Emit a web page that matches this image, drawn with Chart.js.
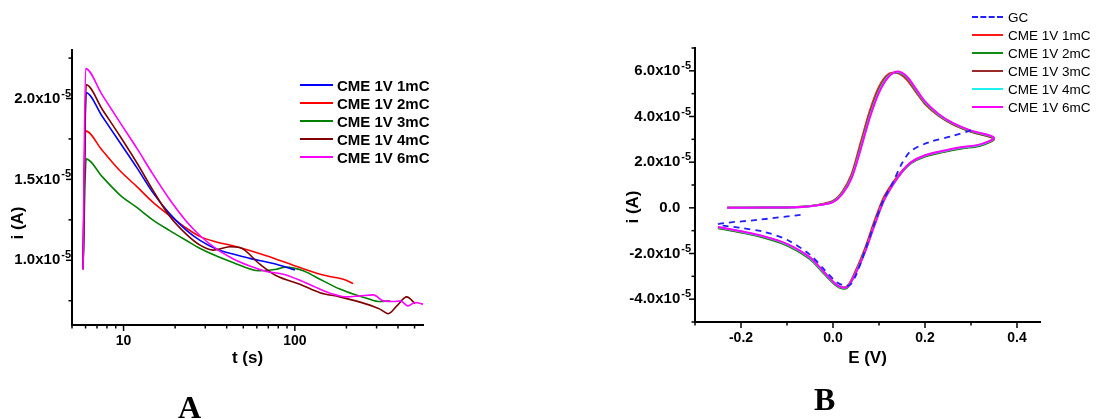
<!DOCTYPE html>
<html>
<head>
<meta charset="utf-8">
<script src="https://cdn.jsdelivr.net/npm/chart.js@4.4.0/dist/chart.umd.min.js"></script>
<style>
  body { margin: 0; background: #fff; width: 1097px; height: 419px; position: relative; overflow: hidden; }
  canvas { position: absolute; top: 0; }
  #cA { left: 0; }
  #cB { left: 560px; }
  .legend { position: absolute; color: #000; }
  .legend div { display: flex; align-items: center; height: 18px; white-space: nowrap; }
  .legend .sw { display: inline-block; border-top: 2px solid; }
  #legA { left: 300px; top: 76px; font: bold 15px "Liberation Sans", Arial, sans-serif; }
  #legA .sw { width: 33px; margin-right: 4px; }
  #legB { left: 972px; top: 8px; font: 13.5px "Liberation Sans", Arial, sans-serif; }
  #legB .sw { width: 31px; margin-right: 5px; }
  .tag { position: absolute; font: bold 32px "Liberation Serif", "Times New Roman", serif; line-height: 1; }
</style>
</head>
<body>
<canvas id="cA" width="470" height="390"></canvas>
<canvas id="cB" width="537" height="390"></canvas>
<div class="legend" id="legA"></div>
<div class="legend" id="legB"></div>
<div class="tag" style="left:178px; top:391px;">A</div>
<div class="tag" style="left:814px; top:383px;">B</div>

<script>
// ---- chart A: current transients, i in units of 1e-5 A, t in s ----
const namesA = ['CME 1V 1mC', 'CME 1V 2mC', 'CME 1V 3mC', 'CME 1V 4mC', 'CME 1V 6mC'];
const colorsA = ['#0000ff', '#ff0000', '#008000', '#800000', '#ff00ff'];

const t1mC = [5.8, 6.05, 7.5, 9.5, 12, 14.8, 18.5, 23.3, 27.8, 34.8, 41.7, 54.6, 78, 100];
const i1mC = [0.945, 2.036, 1.89, 1.73, 1.57, 1.42, 1.29, 1.185, 1.125, 1.07, 1.043, 1.012, 0.975, 0.94];

const t2mC = [5.8, 6.0, 7.5, 9.5, 12, 14.8, 18.5, 23.3, 27.8, 34.8, 43.5, 68.2, 107, 153, 192, 219];
const i2mC = [0.945, 1.80, 1.68, 1.555, 1.454, 1.36, 1.278, 1.198, 1.148, 1.113, 1.09, 1.028, 0.955, 0.904, 0.883, 0.856];

const t3mC = [5.8, 6.05, 7.5, 9.5, 12, 14.8, 18.5, 23.3, 27.8, 43.5, 62, 78, 88, 112, 134, 183, 219, 262, 314, 359];
const i3mC = [0.945, 1.627, 1.517, 1.405, 1.325, 1.25, 1.185, 1.122, 1.075, 0.987, 0.935, 0.945, 0.958, 0.935, 0.894, 0.822, 0.791, 0.766, 0.745, 0.749];

const t4mC = [5.8, 6.05, 7.5, 9.5, 12, 14.8, 18.5, 23.3, 27.8, 33.3, 41.7, 47.7, 62.4, 78.1, 107, 140, 183, 262, 314, 351, 394, 450, 504];
const i4mC = [0.945, 2.085, 1.934, 1.77, 1.60, 1.435, 1.275, 1.16, 1.095, 1.063, 1.084, 1.079, 0.976, 0.904, 0.852, 0.80, 0.774, 0.729, 0.698, 0.67, 0.718, 0.774, 0.732];

const t6mC = [5.8, 6.0, 7.5, 9.5, 12, 14.8, 18.5, 23.3, 27.8, 34.8, 43.5, 54.6, 68.2, 85.5, 107, 134, 167, 200, 240, 287, 328, 376, 414, 457, 504, 560];
const i6mC = [0.945, 2.185, 2.023, 1.854, 1.69, 1.534, 1.379, 1.24, 1.155, 1.07, 1.01, 0.965, 0.931, 0.914, 0.877, 0.831, 0.791, 0.774, 0.78, 0.786, 0.749, 0.745, 0.749, 0.718, 0.739, 0.729];

const tTicksA = [5, 6, 7, 8, 9, 10, 20, 30, 40, 50, 60, 70, 80, 90, 100, 200, 300, 400, 500];
const tLabelsA = [10, 100];
const iTicksA = [0.75, 1.0, 1.25, 1.5, 1.75, 2.0, 2.25];
const iLabelsA = [1.0, 1.5, 2.0];

// ---- chart B: cyclic voltammograms, E in V, i in units of 1e-5 A ----
const namesB = ['GC', 'CME 1V 1mC', 'CME 1V 2mC', 'CME 1V 3mC', 'CME 1V 4mC', 'CME 1V 6mC'];
const colorsB = ['#2020ff', '#ff1a1a', '#138a13', '#9a2a2a', '#1ff0f0', '#ff00ff'];

// potential sweep shared by the CME scans: forward to 0.35 V then back
const eCME = [-0.23, -0.15, -0.10, -0.06, -0.03, 0.00, 0.02, 0.04, 0.06, 0.08, 0.10, 0.12, 0.14, 0.16, 0.18, 0.20, 0.23, 0.26, 0.30, 0.35,
              0.32, 0.28, 0.24, 0.20, 0.17, 0.15, 0.13, 0.11, 0.09, 0.07, 0.05, 0.03, 0.01, -0.02, -0.05, -0.10, -0.15, -0.20, -0.25];
const cv1mC = [0.00, 0.01, 0.02, 0.06, 0.14, 0.30, 0.70, 1.45, 2.85, 4.25, 5.30, 5.85, 5.90, 5.62, 5.08, 4.55, 4.02, 3.66, 3.33, 3.02,
               2.74, 2.62, 2.46, 2.27, 1.98, 1.62, 1.10, 0.45, -0.58, -1.75, -2.72, -3.45, -3.42, -2.84, -2.21, -1.62, -1.28, -1.06, -0.87];
const cv2mC = [0.00, 0.01, 0.02, 0.06, 0.13, 0.28, 0.66, 1.38, 2.72, 4.12, 5.20, 5.80, 5.93, 5.68, 5.13, 4.59, 4.05, 3.68, 3.34, 3.03,
               2.72, 2.60, 2.44, 2.25, 1.96, 1.56, 1.02, 0.35, -0.70, -1.85, -2.80, -3.52, -3.45, -2.88, -2.25, -1.65, -1.31, -1.08, -0.89];
const cv3mC = [0.00, 0.01, 0.02, 0.05, 0.13, 0.27, 0.64, 1.34, 2.66, 4.06, 5.15, 5.78, 5.94, 5.71, 5.16, 4.62, 4.07, 3.70, 3.36, 3.05,
               2.75, 2.63, 2.47, 2.28, 1.99, 1.59, 1.05, 0.36, -0.68, -1.84, -2.78, -3.47, -3.42, -2.83, -2.20, -1.61, -1.27, -1.05, -0.86];
const cv4mC = [0.00, 0.01, 0.02, 0.05, 0.12, 0.26, 0.62, 1.31, 2.60, 4.00, 5.10, 5.75, 5.95, 5.74, 5.19, 4.64, 4.08, 3.71, 3.37, 3.07,
               2.76, 2.64, 2.48, 2.29, 1.99, 1.57, 1.00, 0.30, -0.75, -1.90, -2.82, -3.48, -3.41, -2.82, -2.19, -1.60, -1.26, -1.04, -0.85];
const cv6mC = [0.00, 0.01, 0.02, 0.05, 0.12, 0.25, 0.60, 1.28, 2.55, 3.95, 5.05, 5.72, 5.97, 5.76, 5.22, 4.66, 4.10, 3.72, 3.38, 3.08,
               2.78, 2.66, 2.50, 2.30, 2.00, 1.58, 1.00, 0.28, -0.78, -1.92, -2.83, -3.48, -3.40, -2.80, -2.17, -1.58, -1.25, -1.03, -0.84];

const eGC = [0.30, 0.26, 0.21, 0.17, 0.15, 0.13, 0.11, 0.09, 0.07, 0.05, 0.035, 0.01, -0.02, -0.05, -0.10, -0.15, -0.20, -0.25, -0.16, -0.068];
const cvGC = [3.39, 3.15, 2.88, 2.50, 1.95, 1.10, 0.35, -0.70, -1.85, -2.95, -3.40, -3.28, -2.68, -2.05, -1.40, -1.05, -0.88, -0.72, -0.52, -0.30];

const eTicksB = [-0.3, -0.2, -0.1, 0, 0.1, 0.2, 0.3, 0.4];
const eLabelsB = [-0.2, 0, 0.2, 0.4];
const iTicksB = [-5, -4, -3, -2, -1, 0, 1, 2, 3, 4, 5, 6, 7];
const iLabelsB = [-4, -2, 0, 2, 4, 6];

Chart.defaults.font.family = '"Liberation Sans", Arial, sans-serif';
Chart.defaults.color = '#000';
Chart.defaults.animation = false;

const FONT = '"Liberation Sans", Arial, sans-serif';
const pts = (xs, ys) => xs.map((x, k) => ({ x: x, y: ys[k] }));
const near = (list, v) => list.some((w) => Math.abs(w - v) < 1e-9);
const sci = (v) => (Math.abs(v) < 1e-9 ? '0.0' : v.toFixed(1) + 'x10^-5');

// outward tick marks (long for labelled ticks), y labels with superscript, rotated y title
const axisDecor = {
  id: 'axisDecor',
  afterDraw(chart, args, opts) {
    const ctx = chart.ctx;
    ctx.save();
    ctx.strokeStyle = '#000';
    ctx.fillStyle = '#000';
    ctx.lineWidth = 1.5;
    ['x', 'y'].forEach((id) => {
      const s = chart.scales[id];
      s.ticks.forEach((t) => {
        const len = t.label ? 6 : 3.5;
        const p = s.getPixelForValue(t.value);
        ctx.beginPath();
        if (id === 'x') { ctx.moveTo(p, s.top); ctx.lineTo(p, s.top + len); }
        else { ctx.moveTo(s.right, p); ctx.lineTo(s.right - len, p); }
        ctx.stroke();
      });
    });

    const ys = chart.scales.y;
    ctx.textBaseline = 'middle';
    ctx.textAlign = 'right';
    ctx.font = 'bold 11px ' + FONT;
    const expW = ctx.measureText('-5').width;
    const expRight = ys.right - opts.expGap;
    ys.ticks.forEach((t) => {
      if (!t.label) return;
      const p = ys.getPixelForValue(t.value);
      const parts = t.label.split('^');
      ctx.font = 'bold 15px ' + FONT;
      ctx.fillText(parts[0], expRight - expW - 1, p);
      if (parts[1]) {
        ctx.font = 'bold 11px ' + FONT;
        ctx.fillText(parts[1], expRight, p - 5);
      }
    });

    ctx.translate(opts.x, opts.y);
    ctx.rotate(-Math.PI / 2);
    ctx.font = 'bold 17px ' + FONT;
    ctx.textAlign = 'center';
    ctx.fillText(opts.text, 0, 0);
    ctx.restore();
  }
};

const baseAxis = {
  grid: { display: false, drawTicks: false },
  border: { color: '#000', width: 2 },
};

new Chart(document.getElementById('cA'), {
  type: 'line',
  data: {
    datasets: [
      [t6mC, i6mC], [t4mC, i4mC], [t1mC, i1mC], [t2mC, i2mC], [t3mC, i3mC]
    ].map((s, k) => {
      const idx = [4, 3, 0, 1, 2][k];
      return {
        label: namesA[idx], data: pts(s[0], s[1]), borderColor: colorsA[idx],
        borderWidth: 1.6, pointRadius: 0, fill: false, cubicInterpolationMode: 'monotone'
      };
    })
  },
  options: {
    responsive: false,
    layout: { padding: { left: 0, top: 50, right: 47, bottom: 0 } },
    plugins: { legend: { display: false }, tooltip: { enabled: false },
      axisDecor: { text: 'i (A)', x: 18, y: 223, expGap: 1 } },
    scales: {
      x: {
        ...baseAxis, type: 'logarithmic', min: 5, max: 560,
        afterBuildTicks: (s) => { s.ticks = tTicksA.map((v) => ({ value: v })); },
        afterFit: (s) => { s.height = 65; },
        ticks: { autoSkip: false, maxRotation: 0, padding: 8, font: { size: 14, weight: 'bold' },
          callback: (v) => (near(tLabelsA, v) ? String(v) : '') },
        title: { display: true, text: 't (s)', font: { size: 17, weight: 'bold' }, padding: { top: 0, bottom: 21 } }
      },
      y: {
        ...baseAxis, min: 0.6, max: 2.3,
        afterBuildTicks: (s) => { s.ticks = iTicksA.map((v) => ({ value: v })); },
        afterFit: (s) => { s.width = 72; },
        ticks: { display: false, autoSkip: false,
          callback: (v) => (near(iLabelsA, v) ? sci(v) : '') }
      }
    }
  },
  plugins: [axisDecor]
});

const cvB = [cvGC, cv1mC, cv2mC, cv3mC, cv4mC, cv6mC];
const drawOrderB = [0, 5, 4, 3, 2, 1];
new Chart(document.getElementById('cB'), {
  type: 'line',
  data: {
    datasets: cvB.map((ys, k) => ({
      label: namesB[k],
      data: pts(k === 0 ? eGC : eCME, ys),
      borderColor: colorsB[k],
      borderWidth: k === 0 ? 1.8 : 2,
      borderDash: k === 0 ? [6, 5] : [],
      pointRadius: 0, fill: false, tension: 0.3,
      order: drawOrderB[k]
    }))
  },
  options: {
    responsive: false,
    layout: { padding: { left: 0, top: 48, right: 57, bottom: 0 } },
    plugins: { legend: { display: false }, tooltip: { enabled: false },
      axisDecor: { text: 'i (A)', x: 73, y: 207, expGap: 4 } },
    scales: {
      x: {
        ...baseAxis, type: 'linear', min: -0.3, max: 0.45,
        afterBuildTicks: (s) => { s.ticks = eTicksB.map((v) => ({ value: v })); },
        afterFit: (s) => { s.height = 68; },
        ticks: { autoSkip: false, maxRotation: 0, padding: 8, font: { size: 14, weight: 'bold' },
          callback: (v) => (near(eLabelsB, v) ? v.toFixed(1) : '') },
        title: { display: true, text: 'E (V)', font: { size: 17, weight: 'bold' }, padding: { top: 0, bottom: 21 } }
      },
      y: {
        ...baseAxis, min: -5, max: 7,
        afterBuildTicks: (s) => { s.ticks = iTicksB.map((v) => ({ value: v })); },
        afterFit: (s) => { s.width = 135; },
        ticks: { display: false, autoSkip: false,
          callback: (v) => (near(iLabelsB, v) ? sci(v) : '') }
      }
    }
  },
  plugins: [axisDecor]
});

// html legends
function legend(el, names, colors, dashFirst) {
  names.forEach((n, k) => {
    const row = document.createElement('div');
    const sw = document.createElement('span');
    sw.className = 'sw';
    sw.style.borderTopColor = colors[k];
    if (dashFirst && k === 0) sw.style.borderTopStyle = 'dashed';
    row.appendChild(sw);
    row.appendChild(document.createTextNode(n));
    el.appendChild(row);
  });
}
legend(document.getElementById('legA'), namesA, colorsA, false);
legend(document.getElementById('legB'), namesB, colorsB, true);
</script>
</body>
</html>
